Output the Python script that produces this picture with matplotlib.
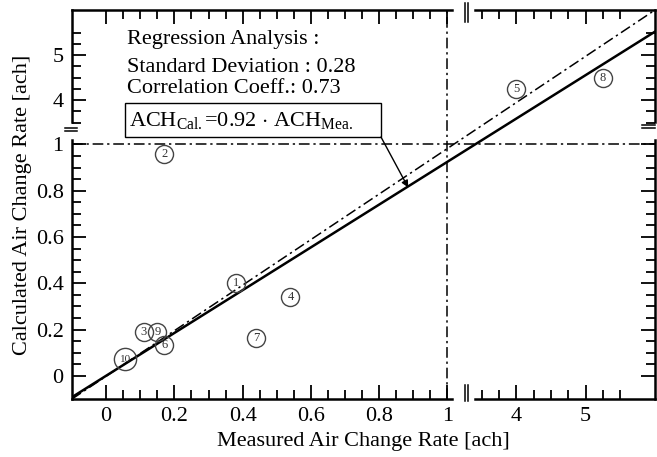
import numpy as np
import matplotlib
matplotlib.use("Agg")
import matplotlib.pyplot as plt
import matplotlib.image as mimage
from matplotlib.patches import Rectangle

plt.rcParams['font.family'] = ['Liberation Serif', 'DejaVu Serif']
plt.rcParams['mathtext.fontset'] = 'custom'
plt.rcParams['mathtext.rm'] = 'Liberation Serif'
plt.rcParams['mathtext.it'] = 'Liberation Serif:italic'

# ---- data ----
labels = ['1', '2', '3', '4', '5', '6', '7', '8', '9', '10']
measured = [0.38, 0.17, 0.11, 0.54, 4.0, 0.17, 0.44, 5.25, 0.15, 0.056]
calculated = [0.40, 0.96, 0.19, 0.34, 4.25, 0.135, 0.165, 4.5, 0.19, 0.072]
slope = 0.92
x_major = [0, 0.2, 0.4, 0.6, 0.8, 1, 4, 5]
x_major_labels = ['0', '0.2', '0.4', '0.6', '0.8', '1', '4', '5']
y_major = [0, 0.2, 0.4, 0.6, 0.8, 1, 4, 5]
y_major_labels = ['0', '0.2', '0.4', '0.6', '0.8', '1', '4', '5']
x_minor = [0.05, 0.1, 0.15, 0.25, 0.3, 0.35, 0.45, 0.5, 0.55, 0.65, 0.7, 0.75,
           0.85, 0.9, 0.95, 3.5, 3.75, 4.25, 4.5, 4.75, 5.25, 5.5]
y_minor = [0.05, 0.1, 0.15, 0.25, 0.3, 0.35, 0.45, 0.5, 0.55, 0.65, 0.7, 0.75,
           0.85, 0.9, 0.95, 3.5, 3.75, 4.25, 4.5, 4.75, 5.25, 5.5]


def broken_scale(a, b, k):
    eps = 1e-4

    def fwd(x):
        x = np.asarray(x, float)
        return np.where(x <= a, x,
                        np.where(x >= b, a + eps + (x - b) * k,
                                 a + (x - a) * eps / (b - a)))

    def inv(u):
        u = np.asarray(u, float)
        return np.where(u <= a, u,
                        np.where(u >= a + eps, b + (u - a - eps) / k,
                                 a + (u - a) * (b - a) / eps))
    return fwd, inv


fig = plt.figure(figsize=(6.57, 4.57), dpi=100)
ax = fig.add_axes([72 / 657, 58 / 457, 583 / 657, 389 / 457])

ax.set_xscale('function', functions=broken_scale(1.06, 3.3, 0.203))
ax.set_yscale('function', functions=broken_scale(1.065, 3.35, 0.1948))
ax.set_xlim(-0.1, 6.0)
ax.set_ylim(-0.1, 6.0)

ax.set_xticks(x_major, x_major_labels)
ax.set_xticks(x_minor, minor=True)
ax.set_yticks(y_major, y_major_labels)
ax.set_yticks(y_minor, minor=True)
ax.tick_params(which='both', direction='in', top=True, right=True, width=1.3,
               labelsize=16, color='black', labelcolor='black')
ax.tick_params(which='major', length=10, pad=6)
ax.tick_params(which='minor', length=6.5)

for s in ax.spines.values():
    s.set_color('none')

xt = ax.get_xaxis_transform()
yt = ax.get_yaxis_transform()

# frame segments
kw = dict(color='black', lw=1.8, clip_on=False, solid_capstyle='projecting')
for yy in (0, 1):
    ax.plot([-0.1, 1.013], [yy, yy], transform=xt, **kw)
    ax.plot([3.40, 6.0], [yy, yy], transform=xt, **kw)
for xx in (0, 1):
    ax.plot([xx, xx], [-0.1, 1.02], transform=yt, **kw)
    ax.plot([xx, xx], [3.51, 6.0], transform=yt, **kw)

# break marks
bk = dict(color='black', lw=1.1, clip_on=False, transform=ax.transAxes)
for xf in (0.674, 0.680):
    ax.plot([xf, xf], [-0.005, 0.036], **bk)
    ax.plot([xf, xf], [0.969, 1.018], **bk)
for yf in (0.689, 0.697):
    ax.plot([-0.012, 0.009], [yf, yf], **bk)
for yf in (0.697, 0.705):
    ax.plot([0.978, 1.0], [yf, yf], **bk)

# reference lines
dd = (0, (7, 2.5, 1.5, 2.5))
ax.axhline(1, color='black', lw=1.1, linestyle=dd)
ax.axvline(1, color='black', lw=1.1, linestyle=dd)
ax.plot([-0.1, 6.0], [-0.1, 6.0], color='black', lw=1.1, linestyle=dd)
ax.plot([-0.1, 6.0], [-0.1 * slope, 6.0 * slope], color='black', lw=1.8)

# points
for lab, mx, my in zip(labels, measured, calculated):
    ms = 16 if len(lab) > 1 else 13
    ax.plot([mx], [my], marker='o', ms=ms, mfc='none', mec='#444444', mew=1.0,
            linestyle='none')
    ax.text(mx, my, lab, ha='center', va='center', fontsize=9 if len(lab) == 1 else 8,
            color='#333333')

# text block
tx = 0.094
ax.text(tx, 0.923, 'Regression Analysis :', transform=ax.transAxes, fontsize=16,
        va='center', ha='left')
ax.text(tx, 0.851, 'Standard Deviation : 0.28', transform=ax.transAxes, fontsize=16,
        va='center', ha='left')
ax.text(tx, 0.797, 'Correlation Coeff.: 0.73', transform=ax.transAxes, fontsize=16,
        va='center', ha='left')
ax.add_patch(Rectangle((0.091, 0.6735), 0.439, 0.0875, transform=ax.transAxes,
                       fill=True, fc='white', ec='black', lw=1.0, zorder=3))
ax.text(0.097, 0.716, r'ACH$_{\mathrm{Cal.}}$=0.92 $\cdot$ ACH$_{\mathrm{Mea.}}$',
        transform=ax.transAxes, fontsize=16, va='center', ha='left', zorder=4)
ax.annotate('', xy=(0.885, 0.885 * slope), xycoords='data',
            xytext=(0.530, 0.6735), textcoords='axes fraction',
            arrowprops=dict(arrowstyle='-|>', color='black', lw=1.0,
                            shrinkA=0, shrinkB=0, mutation_scale=10), zorder=4)

ax.set_xlabel('Measured Air Change Rate [ach]', fontsize=16, labelpad=4)
ax.set_ylabel('Calculated Air Change Rate [ach]', fontsize=16, labelpad=3)

fig.canvas.draw()
buf = np.asarray(fig.canvas.buffer_rgba()).copy()
mimage.imsave('out.png', buf)
